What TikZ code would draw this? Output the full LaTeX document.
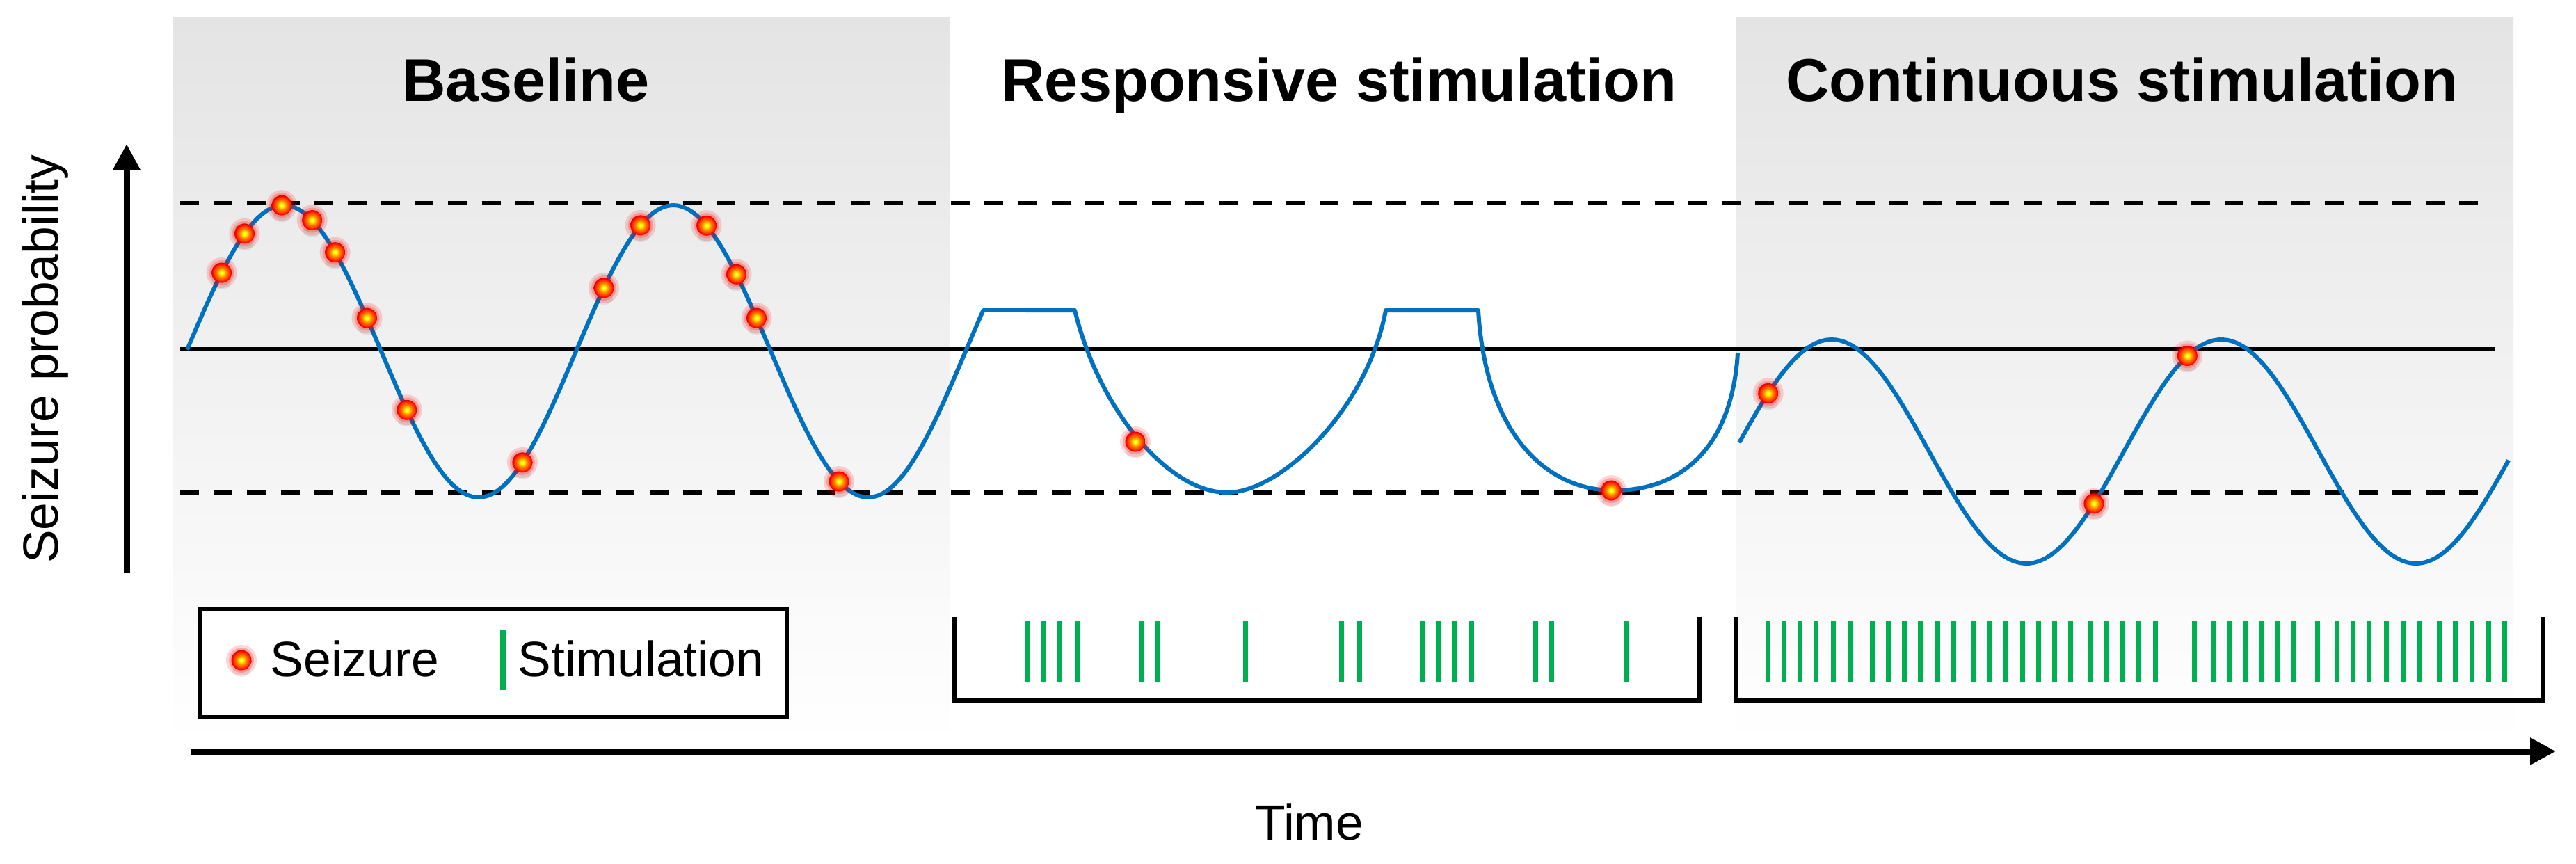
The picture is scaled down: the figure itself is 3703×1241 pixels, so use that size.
\documentclass[tikz,border=0pt]{standalone}
\usepackage{fontspec}
\setmainfont{Liberation Sans}
\usetikzlibrary{arrows.meta}
\definecolor{curveblue}{HTML}{0070C0}
\definecolor{stimgreen}{HTML}{00B050}
\definecolor{panelgray}{HTML}{E4E4E4}
\pgfdeclareradialshading{seizureball}{\pgfpoint{0bp}{0bp}}{color(0bp)=(yellow!60!white); color(4bp)=(yellow); color(12bp)=(orange); color(19bp)=(orange!45!red); color(23bp)=(red); color(25bp)=(red!90!black); color(50bp)=(red!90!black)}
\newcommand\titlefont{\fontsize{24.6}{28}\selectfont\bfseries}
\newcommand\labelfont{\fontsize{20.3}{24}\selectfont}
\begin{document}
\begin{tikzpicture}[x=0.01cm, y=-0.01cm,
  thresh/.style={line width=1.85pt, dash pattern=on 7.7pt off 6pt},
  midline/.style={line width=1.85pt},
  curve/.style={curveblue, line width=1.7pt, line join=round},
  stimbar/.style={stimgreen, line width=2pt},
  bracket/.style={line width=2pt, line join=miter},
  axisarrow/.style={line width=2.56pt, -{Triangle[length=0.37cm,width=0.37cm]}},
  lbl/.style={font=\labelfont, inner sep=0pt},
  ttl/.style={font=\titlefont, inner sep=0pt, anchor=base},
  seizure/.pic={
    \fill[black, opacity=0.08] (0,16) ellipse (13 and 8);
    \fill[red, opacity=0.16] (0,0) circle (22);
    \fill[red, opacity=0.22] (0,0) circle (18);
    \shade[shading=seizureball] (0,0) circle (14.5);
  }]
\useasboundingbox (0,0) rectangle (3703,1241);
\fill[white] (0,0) rectangle (3703,1241);

% shaded panels
\shade[top color=panelgray, bottom color=white] (248,25) rectangle (1365,1070);
\shade[top color=panelgray, bottom color=white] (2496,25) rectangle (3613,1070);

% titles
\node[ttl] (tbase) at (756,145) {Baseline};
\node[ttl] (tresp) at (1925,145) {Responsive stimulation};
\node[ttl] (tcont) at (3050,145) {Continuous stimulation};

% reference lines
\draw[thresh] (259,292) -- (3577,292);
\draw[midline] (259,502) -- (3587,502);
\draw[thresh] (259,708) -- (3577,708);

% baseline + responsive curve
\draw[curve] plot[domain=269:1413.4, samples=160] (\x, {505-210*sin(0.642857*(\x-268))})
  -- (1545,446) .. controls (1580,590) and (1680,708) .. (1764,708)
  .. controls (1840,708) and (1965,590) .. (1992,446)
  -- (2125,446) .. controls (2135,620) and (2220,705) .. (2320,705)
  .. controls (2420,705) and (2490,640) .. (2498,507);

% continuous curve
\draw[curve] plot[domain=2500:3606, samples=160] (\x, {649-161*sin(0.642857*(\x-2493))});

% seizures
\foreach \xx in {318.6,351.5,405,448.7,481.6,527.5,584.8,750.9,868,920.7,1015.6,1058.5,1087.5,1206}
  \pic at (\xx, {505-210*sin(0.642857*(\xx-268))}) {seizure};
\pic at (1632,635) {seizure};
\pic at (2316,705) {seizure};
\foreach \xx in {2541.7,3009.9,3144.3}
  \pic at (\xx, {649-161*sin(0.642857*(\xx-2493))}) {seizure};

% legend
\draw[line width=1.7pt, fill=white] (287,875) rectangle (1131,1031);
\pic at (347,949) {seizure};
\node[lbl, anchor=base west] (lseiz) at (388,972) {Seizure};
\draw[stimbar] (723,905) -- (723,992);
\node[lbl, anchor=base west] (lstim) at (744,972) {Stimulation};

% stimulation brackets
\draw[bracket] (1371,887) -- (1371,1006) -- (2442,1006) -- (2442,887);
\draw[bracket] (2495,887) -- (2495,1006) -- (3655,1006) -- (3655,887);
\foreach \s in {1477.3,1500.1,1522.8,1548.5,1640.9,1663.6,1790.5,1928.4,1954.1,2044.3,2067.0,2090.5,2115.4,2207.8,2230.6,2338.4}
  \draw[stimbar] (\s,893) -- (\s,981);
\foreach \s in {2541.6,2564.3,2587.8,2610.5,2635.5,2659.0,2691.2,2714.7,2737.4,2760.2,2785.8,2808.6,2836.4,2859.9,2882.6,2907.6,2930.3,2953.8,2976.5,3004.4,3027.9,3050.6,3073.3,3098.3,3154.0,3181.9,3204.6,3227.3,3250.8,3273.5,3297.0,3331.5,3359.4,3382.1,3405.6,3430.5,3454.0,3478.9,3506.8,3529.5,3553.0,3577.9,3600.6}
  \draw[stimbar] (\s,893) -- (\s,981);

% axes
\coordinate (yfoot) at (182,823);
\coordinate (ytip) at (182,207);
\coordinate (xfoot) at (274,1080);
\coordinate (xtip) at (3674,1080);
\draw[axisarrow] (yfoot) -- (ytip);
\draw[axisarrow] (xfoot) -- (xtip);
\node[lbl, rotate=90, anchor=base] (ylab) at (83,516) {Seizure probability};
\node[lbl, anchor=base] (xlab) at (1882,1207) {Time};
\end{tikzpicture}
\end{document}
